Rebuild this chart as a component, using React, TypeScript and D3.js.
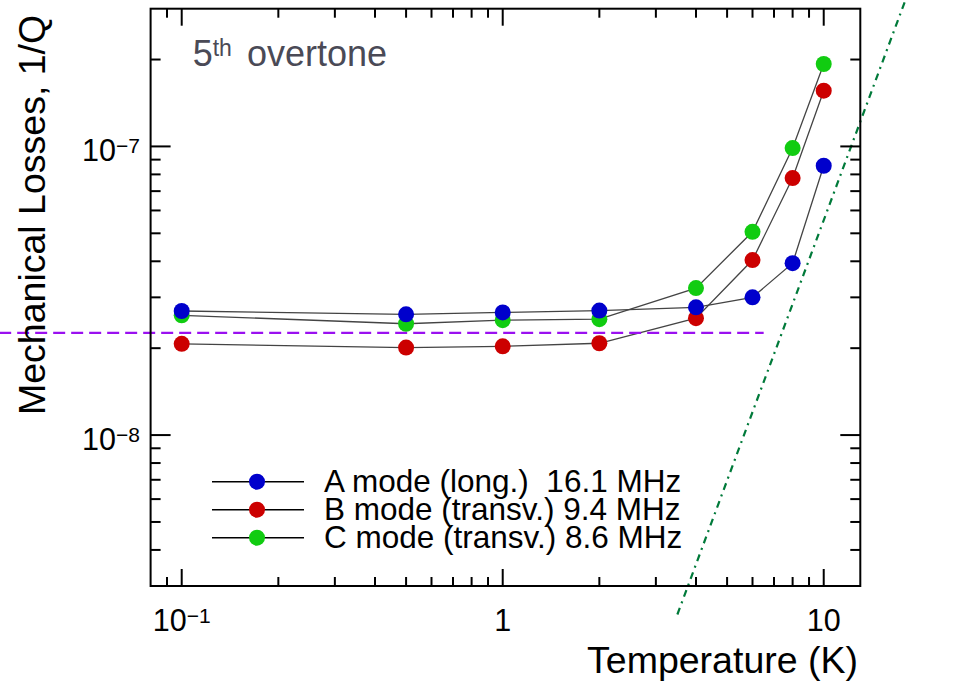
import React from 'react';
import * as d3 from 'd3';

const temperatures = [0.1, 0.5, 1, 2, 4, 6, 8, 10];
const modeA = [2.69e-8, 2.62e-8, 2.66e-8, 2.7e-8, 2.77e-8, 3.0e-8, 3.94e-8, 8.57e-8];
const modeB = [2.07e-8, 2.01e-8, 2.03e-8, 2.08e-8, 2.54e-8, 4.04e-8, 7.77e-8, 1.56e-7];
const modeC = [2.6e-8, 2.43e-8, 2.5e-8, 2.52e-8, 3.23e-8, 5.06e-8, 9.87e-8, 1.93e-7];
const seriesNames = ['A mode (long.)  16.1 MHz', 'B mode (transv.) 9.4 MHz', 'C mode (transv.) 8.6 MHz'];
const seriesColors = ['#0000cc', '#cc0000', '#11cc11'];
const xTickLabels = [
  { v: 0.1, base: '10', exp: '\u22121' },
  { v: 1, base: '1', exp: '' },
  { v: 10, base: '10', exp: '' },
];
const yTickLabels = [
  { v: 1e-7, base: '10', exp: '\u22127' },
  { v: 1e-8, base: '10', exp: '\u22128' },
];
const thresholdLevel = 2.26e-8;
const thresholdTemps = [0.027, 6.5];
const fitTemps = [3.5, 18];
const fitLosses = [2.39e-9, 3.23e-7];

const W = 955;
const H = 687;
const L = 150.6;
const R = 860.3;
const T = 8.7;
const B = 586;
const FONT = "'Liberation Sans', Arial, Helvetica, sans-serif";

export default function App() {
  const x = d3.scaleLog().domain([0.08, 13]).range([L, R]);
  const y = d3.scaleLog().domain([3e-9, 3e-7]).range([B, T]);

  const isMajor = (v: number) => Math.abs(Math.log10(v) - Math.round(Math.log10(v))) < 1e-6;
  const xTicks = x.ticks(20).filter((v) => x(v) > L + 0.5 && x(v) < R - 0.5);
  const yTicks = y.ticks(20).filter((v) => y(v) < B - 0.5 && y(v) > T + 0.5);

  const series = [modeA, modeB, modeC];
  const line = d3
    .line<number>()
    .x((_, i) => x(temperatures[i]))
    .y((d) => y(d));

  const drawOrder = [2, 1, 0];

  return (
    <svg
      width={W}
      height={H}
      style={{ position: 'absolute', left: 0, top: 0, background: '#fff' }}
      fontFamily={FONT}
    >
      <rect x={0} y={0} width={W} height={H} fill="#fff" />
      {series.map((s, i) => (
        <path key={'l' + i} d={line(s) || ''} fill="none" stroke="#444" strokeWidth={1.3} />
      ))}
      <line
        x1={x(thresholdTemps[0])}
        x2={x(thresholdTemps[1])}
        y1={y(thresholdLevel)}
        y2={y(thresholdLevel)}
        stroke="#9a10f0"
        strokeWidth={2.2}
        strokeDasharray="12,6"
      />
      <line
        x1={x(fitTemps[0])}
        y1={y(fitLosses[0])}
        x2={x(fitTemps[1])}
        y2={y(fitLosses[1])}
        stroke="#007a3a"
        strokeWidth={2.2}
        strokeDasharray="7,5,2,5"
      />
      {drawOrder.map((si) =>
        series[si].map((v, j) => (
          <circle key={'m' + si + '-' + j} cx={x(temperatures[j])} cy={y(v)} r={8} fill={seriesColors[si]} />
        ))
      )}
      <rect x={L} y={T} width={R - L} height={B - T} fill="none" stroke="#000" strokeWidth={2} />
      {xTicks.map((v, i) => {
        const len = isMajor(v) ? 17 : 9;
        return (
          <g key={'xt' + i}>
            <line x1={x(v)} x2={x(v)} y1={B} y2={B - len} stroke="#000" strokeWidth={2} />
            <line x1={x(v)} x2={x(v)} y1={T} y2={T + len} stroke="#000" strokeWidth={2} />
          </g>
        );
      })}
      {yTicks.map((v, i) => {
        const len = isMajor(v) ? 20 : 10;
        return (
          <g key={'yt' + i}>
            <line x1={L} x2={L + len} y1={y(v)} y2={y(v)} stroke="#000" strokeWidth={2} />
            <line x1={R} x2={R - len} y1={y(v)} y2={y(v)} stroke="#000" strokeWidth={2} />
          </g>
        );
      })}
      {xTickLabels.map((t, i) => (
        <text key={'xl' + i} x={x(t.v)} y={630.5} fontSize={30.5} textAnchor="middle" fill="#000">
          {t.base}
          {t.exp && (
            <tspan fontSize={21} dy={-8}>
              {t.exp}
            </tspan>
          )}
        </text>
      ))}
      {yTickLabels.map((t, i) => (
        <text key={'yl' + i} x={140} y={y(t.v) + 14.5} fontSize={30.5} textAnchor="end" fill="#000">
          {t.base}
          <tspan fontSize={21} dy={-8}>
            {t.exp}
          </tspan>
        </text>
      ))}
      <text x={858} y={672.5} fontSize={37.5} textAnchor="end" fill="#000">
        Temperature (K)
      </text>
      <text transform={`translate(45,415) rotate(-90)`} fontSize={37.5} textAnchor="start" fill="#000">
        Mechanical Losses, 1/Q
      </text>
      <text x={192.7} y={65.7} fontSize={36} fill="#4a4a56">
        5
        <tspan fontSize={23} dy={-10}>
          th
        </tspan>
        <tspan x={247} dy={10}>
          overtone
        </tspan>
      </text>
      {seriesNames.map((name, i) => {
        const ry = 481.7 + i * 28;
        return (
          <g key={'lg' + i}>
            <line x1={212} x2={304} y1={ry} y2={ry} stroke="#000" strokeWidth={1.5} />
            <circle cx={257} cy={ry} r={8} fill={seriesColors[i]} />
            <text x={324} y={ry + 10.5} fontSize={31.5} fill="#000" style={{ whiteSpace: 'pre' }}>
              {name}
            </text>
          </g>
        );
      })}
    </svg>
  );
}
